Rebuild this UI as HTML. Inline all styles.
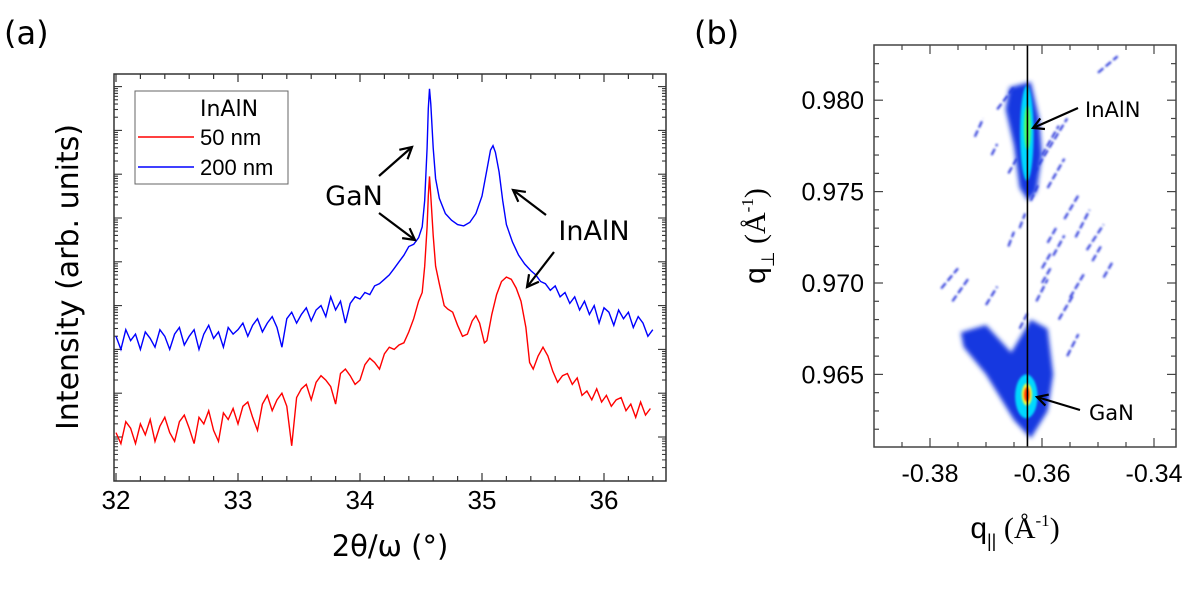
<!DOCTYPE html>
<html><head><meta charset="utf-8"><style>
html,body{margin:0;padding:0;background:#fff;}
svg{display:block;}
</style></head><body>
<svg id="fig" width="1200" height="597" viewBox="0 0 1200 597" xmlns="http://www.w3.org/2000/svg">
<defs>
<filter id="blur1" x="-50%" y="-50%" width="200%" height="200%"><feGaussianBlur stdDeviation="2.5"/></filter>
<filter id="blur2" x="-50%" y="-50%" width="200%" height="200%"><feGaussianBlur stdDeviation="1.0"/></filter>
</defs>
<text x="4" y="44" font-family="DejaVu Sans, sans-serif" font-size="32">(a)</text>
<text x="694" y="44" font-family="DejaVu Sans, sans-serif" font-size="32">(b)</text>
<g id="pa"></g>
<g id="pb"></g>
</svg>
<script>
// ---------- Panel (a) data ----------
const blueLeftStart = 32.0, gridStep = 0.04;
const blueLeftV = [2.3,2.0,2.45,2.2,2.35,2.0,2.4,2.25,2.05,2.45,2.3,2.0,2.35,2.5,2.1,2.3,2.45,2.0,2.35,2.55,2.25,2.4,2.05,2.5,2.35,
 2.45,2.6,2.3,2.55,2.7,2.4,2.6,2.75,2.5,2.05,2.7,2.85,2.6,
 2.8,2.95,2.65,2.9,3.0,2.75,3.2,2.9,3.1,2.6,3.05,3.2,
 3.15,3.3,3.25,3.45,3.5,3.6,3.7,3.85,4.0,4.15,4.35];
const bluePeakX = [34.44,34.48,34.51,34.53,34.55,34.56,34.57,34.58,34.6,34.62,34.65,34.7,34.75,34.8,34.85,34.9,34.95,35.0,35.04,35.07,35.09,35.11,35.14,35.17,35.2,35.25,35.3,35.35,35.4,35.44,35.48];
const bluePeakV = [4.4,4.55,4.8,5.4,6.6,7.5,7.95,7.6,6.6,5.9,5.45,5.1,4.95,4.85,4.82,4.9,5.1,5.5,6.1,6.55,6.65,6.5,6.05,5.4,4.85,4.45,4.15,3.95,3.8,3.7,3.55];
const blueRightStart = 35.52;
const blueRightV = [3.5,3.35,3.45,3.2,3.3,3.05,3.2,2.9,3.1,2.8,3.0,2.6,2.95,2.85,2.55,2.9,2.7,2.85,2.5,2.75,2.6,2.3,2.45,2.2];

const redLeftStart = 32.0;
const redLeftV = [0.1,-0.15,0.35,0.2,-0.15,0.3,0.05,0.4,-0.1,0.25,0.45,0.1,-0.1,0.35,0.5,0.2,-0.15,0.45,0.3,0.6,0.15,-0.1,0.55,0.4,0.65,
 0.3,0.7,0.8,0.45,0.15,0.75,0.95,0.6,0.85,1.0,0.7,-0.2,0.9,
 1.1,1.2,0.85,1.25,1.4,1.3,1.15,0.75,1.45,1.55,1.4,1.2,
 1.3,1.65,1.8,1.7,1.55,1.9,2.05,2.0,2.1,2.15,2.4];
const redPeakX = [34.44,34.48,34.51,34.53,34.55,34.56,34.57,34.58,34.6,34.62,34.65,34.69,34.72,34.76,34.8,34.84,34.88,34.92,34.95,34.98,35.02,35.04,35.08,35.12,35.16,35.2,35.24,35.28,35.32,35.36,35.39,35.42,35.46,35.5,35.54,35.58,35.62];
const redPeakV = [2.7,3.1,3.3,3.9,4.8,5.5,5.95,5.5,4.6,3.9,3.5,3.0,2.92,2.85,2.55,2.3,2.35,2.65,2.77,2.6,2.15,2.2,2.8,3.25,3.55,3.65,3.6,3.4,3.1,2.5,1.7,1.55,1.85,2.05,1.85,1.5,1.25];
const redRightStart = 35.66;
const redRightV = [1.4,1.45,1.2,1.35,0.95,1.05,0.85,1.1,0.8,0.95,0.7,0.85,0.9,0.6,0.75,0.45,0.8,0.5,0.65,0.4];

const xTicksA = [32,33,34,35,36];
const yDecadesA = [0,1,2,3,4,5,6,7,8];

// ---------- Panel (b) data ----------
const xTicksB = [-0.38,-0.36,-0.34];
const yTicksB = [0.965,0.970,0.975,0.980];
const refLineQ = -0.3626;
const inalnBlobQx = [-0.3658,-0.3620,-0.3605,-0.3600,-0.3610,-0.3625,-0.3640,-0.3650,-0.3665];
const inalnBlobQz = [0.9807,0.9810,0.9790,0.9770,0.9750,0.9745,0.9752,0.9775,0.9795];
const ganBlobQx = [-0.3745,-0.3700,-0.3655,-0.3620,-0.3590,-0.3580,-0.3590,-0.3620,-0.3650,-0.3700,-0.3740];
const ganBlobQz = [0.9673,0.9677,0.9662,0.9680,0.9675,0.9650,0.9630,0.9615,0.9625,0.9650,0.9665];
const spotQx = [-0.3627,-0.3626,-0.3628,-0.3627,-0.3627];
const spotQz = [0.9782,0.9785,0.9638,0.9639,0.9639];
const spotRx = [0.0012,0.0006,0.0020,0.0009,0.0005];
const spotRz = [0.0026,0.0012,0.0012,0.0006,0.0004];
const spotCol = ['#00d8ff','#50ff60','#00d8ff','#ffff30','#ff2a00'];
const streakQx1 = [-0.3615,-0.3500,-0.3680,-0.3720,-0.3660,-0.3560,-0.3540,-0.3590,-0.3520,-0.3490,-0.3780,-0.3760,-0.3700,-0.3600,-0.3550,-0.3570,-0.3640,-0.3620,-0.3600,-0.3580,-0.3610,-0.3600,-0.3590,-0.3660,-0.3690,-0.3510,-0.3640,-0.3555];
const streakQz1 = [0.9760,0.9815,0.9795,0.9780,0.9720,0.9735,0.9725,0.9722,0.9718,0.9703,0.9697,0.9690,0.9688,0.9700,0.9692,0.9680,0.9730,0.9745,0.9708,0.9715,0.9690,0.9770,0.9752,0.9760,0.9770,0.9712,0.9675,0.9660];
const streakQx2 = [-0.3555,-0.3465,-0.3650,-0.3705,-0.3650,-0.3535,-0.3515,-0.3575,-0.3490,-0.3475,-0.3750,-0.3730,-0.3680,-0.3585,-0.3525,-0.3545,-0.3630,-0.3605,-0.3585,-0.3560,-0.3590,-0.3570,-0.3560,-0.3645,-0.3680,-0.3495,-0.3625,-0.3535];
const streakQz2 = [0.9790,0.9824,0.9807,0.9790,0.9728,0.9748,0.9740,0.9730,0.9732,0.9711,0.9708,0.9703,0.9698,0.9708,0.9705,0.9693,0.9738,0.9755,0.9716,0.9726,0.9702,0.9786,0.9768,0.9768,0.9776,0.9720,0.9684,0.9672];

const NS = 'http://www.w3.org/2000/svg';
function mk(tag, attrs, parent){ const e=document.createElementNS(NS,tag); for(const k in attrs) e.setAttribute(k,attrs[k]); parent.appendChild(e); return e; }

// ---------- Panel (a) ----------
const pa = document.getElementById('pa');
const AX0=114, AX1=666, AY0=74, AY1=481;
const xA = v => 116 + (v-32)*122;
const yA = v => 437 - v*43.8;
const fr = mk('rect',{x:AX0,y:AY0,width:AX1-AX0,height:AY1-AY0,fill:'none',stroke:'#333','stroke-width':1.5},pa);


for(let t=32;t<=36.41;t+=0.2){
  const tt=Math.round(t*10)/10; const major=Math.abs(tt-Math.round(tt))<1e-6; const len=major?8:5;
  const x=xA(tt);
  mk('line',{x1:x,y1:AY1,x2:x,y2:AY1-len,stroke:'#333','stroke-width':1.2},pa);
  mk('line',{x1:x,y1:AY0,x2:x,y2:AY0+len,stroke:'#333','stroke-width':1.2},pa);
}
xTicksA.forEach(v=>{
  const t=mk('text',{x:xA(v),y:509,'text-anchor':'middle','font-family':'Liberation Sans, sans-serif','font-size':26},pa);
  t.textContent=v;
  
  
});
yDecadesA.forEach(d=>{
  for(let m=1;m<=9;m++){
    const v=d+Math.log10(m); const y=yA(v); if(y<AY0+1||y>AY1-1) continue;
    const len=m===1?8:4;
    mk('line',{x1:AX0,y1:y,x2:AX0+len,y2:y,stroke:'#333','stroke-width':1.1},pa);
    mk('line',{x1:AX1,y1:y,x2:AX1-len,y2:y,stroke:'#333','stroke-width':1.1},pa);
  }
});
for(let m=2;m<=9;m++){const y=yA(-1+Math.log10(m)); if(y<AY1-1){mk('line',{x1:AX0,y1:y,x2:AX0+4,y2:y,stroke:'#333'},pa);mk('line',{x1:AX1,y1:y,x2:AX1-4,y2:y,stroke:'#333'},pa);}}

function seriesPts(lStart,lV,pX,pV,rStart,rV){
  const pts=[];
  lV.forEach((v,i)=>pts.push([lStart+i*gridStep,v]));
  pX.forEach((x,i)=>pts.push([x,pV[i]]));
  rV.forEach((v,i)=>pts.push([rStart+i*gridStep,v]));
  return pts.filter(p=>p[0]<=36.41).map(p=>xA(p[0]).toFixed(1)+','+yA(p[1]).toFixed(1)).join(' ');
}
const redLine = mk('polyline',{points:seriesPts(redLeftStart,redLeftV,redPeakX,redPeakV,redRightStart,redRightV),fill:'none',stroke:'#ff0000','stroke-width':1.4},pa);


const blueLine = mk('polyline',{points:seriesPts(blueLeftStart,blueLeftV,bluePeakX,bluePeakV,blueRightStart,blueRightV),fill:'none',stroke:'#0000ff','stroke-width':1.4},pa);



const lg = mk('g',{},pa);


mk('rect',{x:135,y:91,width:153,height:93,fill:'#fff',stroke:'#666','stroke-width':1},lg);
const lt=mk('text',{x:200,y:116,'font-family':'DejaVu Sans, sans-serif','font-size':22},lg); lt.textContent='InAlN';


mk('line',{x1:138,y1:137,x2:194,y2:137,stroke:'#ff0000','stroke-width':1.5},lg);
const l1=mk('text',{x:200,y:145,'font-family':'Liberation Sans, sans-serif','font-size':22},lg); l1.textContent='50 nm';


mk('line',{x1:138,y1:167,x2:194,y2:167,stroke:'#0000ff','stroke-width':1.5},lg);
const l2=mk('text',{x:200,y:175,'font-family':'Liberation Sans, sans-serif','font-size':22},lg); l2.textContent='200 nm';



function arrow(x1,y1,x2,y2,parent,name,hl){
  const g=mk('g',{},parent);
  
  
  mk('line',{x1:x1,y1:y1,x2:x2,y2:y2,stroke:'#000','stroke-width':2.2},g);
  const a=Math.atan2(y2-y1,x2-x1), h=hl||13, s=0.5;
  const p1=[x2-h*Math.cos(a-s),y2-h*Math.sin(a-s)], p2=[x2-h*Math.cos(a+s),y2-h*Math.sin(a+s)];
  mk('polyline',{points:p1.join(',')+' '+x2+','+y2+' '+p2.join(','),fill:'none',stroke:'#000','stroke-width':2.2},g);
}
arrow(379,176,412,147,pa,'arrow-gan-200nm');
arrow(379,213,415,240,pa,'arrow-gan-50nm');
arrow(546,215,513,190,pa,'arrow-inaln-200nm');
arrow(554,252,527,287,pa,'arrow-inaln-50nm');
const tg=mk('text',{x:354,y:205,'text-anchor':'middle','font-family':'DejaVu Sans, sans-serif','font-size':27},pa); tg.textContent='GaN';


const ti=mk('text',{x:594,y:240,'text-anchor':'middle','font-family':'DejaVu Sans, sans-serif','font-size':27},pa); ti.textContent='InAlN';


const yt=mk('text',{x:0,y:0,transform:'translate(78,277) rotate(-90)','text-anchor':'middle','font-family':'DejaVu Sans, sans-serif','font-size':30},pa); yt.textContent='Intensity (arb. units)';


const xt=mk('text',{x:390,y:556,'text-anchor':'middle','font-family':'DejaVu Sans, sans-serif','font-size':29},pa); xt.textContent='2θ/ω (°)';



// ---------- Panel (b) ----------
const pb=document.getElementById('pb');
const BX0=874,BX1=1176,BY0=45,BY1=447;
const xB = q => 1042 + (q+0.36)*5600;
const yB = q => 283 - (q-0.970)*18280;
const clip=mk('clipPath',{id:'cb'},pb); mk('rect',{x:BX0,y:BY0,width:BX1-BX0,height:BY1-BY0},clip);
const hm=mk('g',{'clip-path':'url(#cb)'},pb);


streakQx1.forEach((q,i)=>{
  const s=mk('line',{x1:xB(q),y1:yB(streakQz1[i]),x2:xB(streakQx2[i]),y2:yB(streakQz2[i]),stroke:'#1a2ad8','stroke-width':2,'stroke-dasharray':'7 3',filter:'url(#blur2)'},hm);
  
  
});
function poly(qx,qz,name){
  const p=mk('polygon',{points:qx.map((q,i)=>xB(q).toFixed(1)+','+yB(qz[i]).toFixed(1)).join(' '),fill:'#1838e0',filter:'url(#blur1)'},hm);
  
  
}
poly(inalnBlobQx,inalnBlobQz,'inaln-intensity-region');
poly(ganBlobQx,ganBlobQz,'gan-intensity-region');
spotQx.forEach((q,i)=>{
  const e=mk('ellipse',{cx:xB(q),cy:yB(spotQz[i]),rx:spotRx[i]*5600,ry:spotRz[i]*18280,fill:spotCol[i],filter:'url(#blur2)'},hm);
  
  
});
const vl=mk('line',{x1:xB(refLineQ),y1:BY0,x2:xB(refLineQ),y2:BY1,stroke:'#000','stroke-width':1.6},pb);


const frb=mk('rect',{x:BX0,y:BY0,width:BX1-BX0,height:BY1-BY0,fill:'none',stroke:'#444','stroke-width':1.5},pb);


for(let k=-77;k<=-67;k++){
  const q=k*0.005; const x=xB(q); if(x<BX0+2||x>BX1-2) continue;
  const major=(k%4===0); const len=major?9:5;
  mk('line',{x1:x,y1:BY1,x2:x,y2:BY1-len,stroke:'#444','stroke-width':1.2},pb);
  mk('line',{x1:x,y1:BY0,x2:x,y2:BY0+len,stroke:'#444','stroke-width':1.2},pb);
}
for(let k=960;k<=983;k++){
  const q=k/1000; const y=yB(q); if(y<BY0+2||y>BY1-2) continue;
  const major=(k%5===0); const len=major?9:5;
  mk('line',{x1:BX0,y1:y,x2:BX0+len,y2:y,stroke:'#444','stroke-width':1.2},pb);
  mk('line',{x1:BX1,y1:y,x2:BX1-len,y2:y,stroke:'#444','stroke-width':1.2},pb);
}
xTicksB.forEach(v=>{
  const t=mk('text',{x:xB(v),y:482,'text-anchor':'middle','font-family':'Liberation Sans, sans-serif','font-size':25},pb);
  t.textContent=v.toFixed(2);
  
  
});
yTicksB.forEach(v=>{
  const t=mk('text',{x:864,y:yB(v)+9,'text-anchor':'end','font-family':'Liberation Sans, sans-serif','font-size':25},pb);
  t.textContent=v.toFixed(3);
  
  
});
const xtb=mk('text',{x:1015,y:538,'text-anchor':'middle','font-family':'Liberation Sans, sans-serif','font-size':30},pb);
xtb.innerHTML='q<tspan font-size="18" dy="9">||</tspan><tspan dy="-9" font-family="Liberation Serif, serif"> (Å</tspan><tspan font-size="17" dy="-12" font-family="Liberation Serif, serif">-1</tspan><tspan dy="12" font-family="Liberation Serif, serif">)</tspan>';


const ytb=mk('text',{x:0,y:0,transform:'translate(765,236) rotate(-90)','text-anchor':'middle','font-family':'Liberation Sans, sans-serif','font-size':30},pb);
ytb.innerHTML='q<tspan font-size="18" dy="9">⊥</tspan><tspan dy="-9" font-family="Liberation Serif, serif"> (Å</tspan><tspan font-size="17" dy="-12" font-family="Liberation Serif, serif">-1</tspan><tspan dy="12" font-family="Liberation Serif, serif">)</tspan>';


arrow(1078,108,1033,128,pb,'arrow-inaln-b',12);
arrow(1080,410,1037,397,pb,'arrow-gan-b',12);
const tib=mk('text',{x:1085,y:117,'font-family':'DejaVu Sans, sans-serif','font-size':21},pb); tib.textContent='InAlN';


const tgb=mk('text',{x:1089,y:420,'font-family':'DejaVu Sans, sans-serif','font-size':21},pb); tgb.textContent='GaN';


</script>
</body></html>
